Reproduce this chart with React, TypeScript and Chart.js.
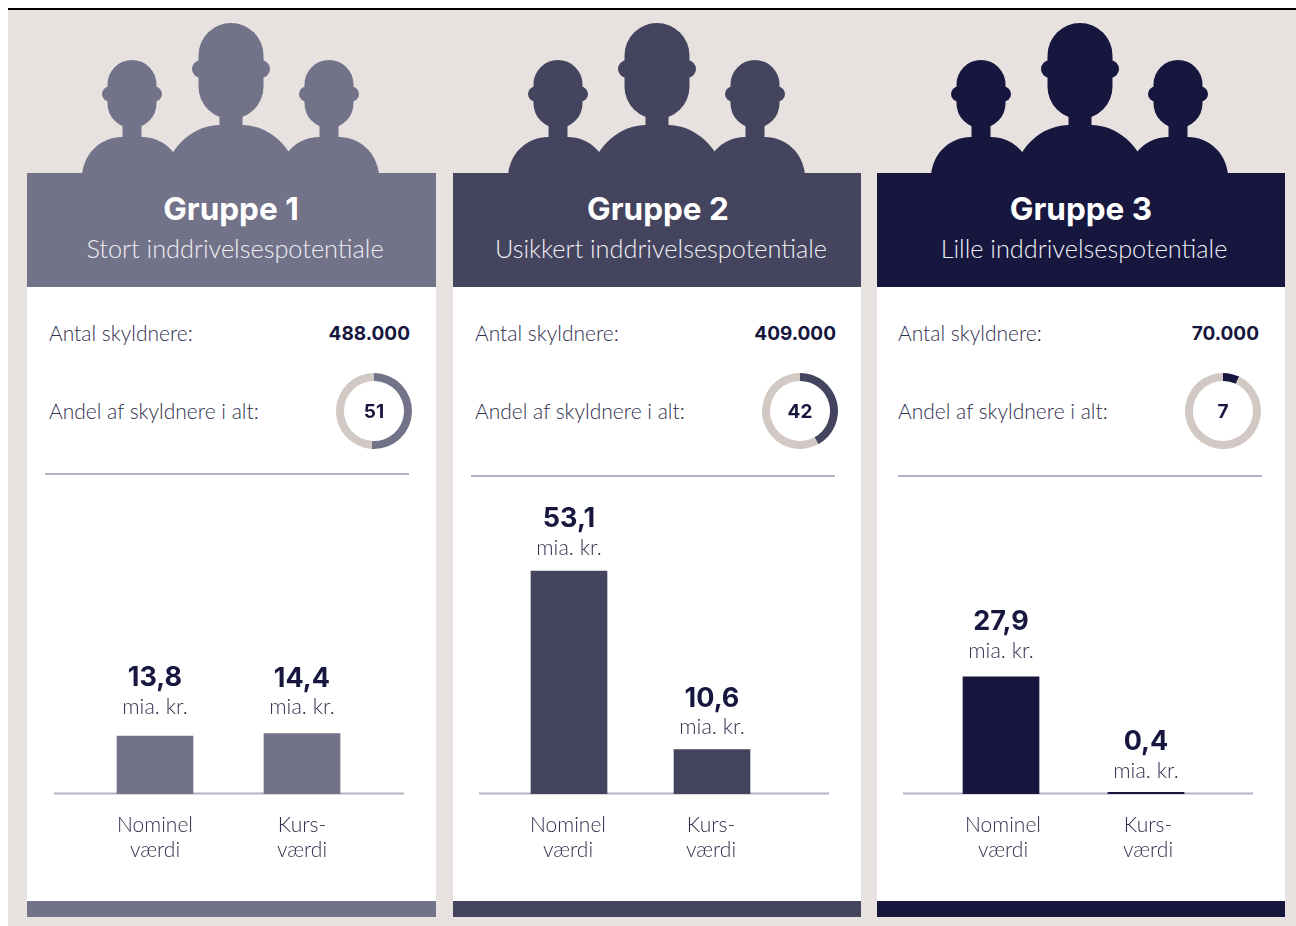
import React, { useEffect, useRef } from "react";
import { Chart, registerables } from "chart.js";

Chart.register(...registerables);

const groupTitles = ["Gruppe 1", "Gruppe 2", "Gruppe 3"];
const groupSubtitles = ["Stort inddrivelsespotentiale", "Usikkert inddrivelsespotentiale", "Lille inddrivelsespotentiale"];
const debtorCounts = ["488.000", "409.000", "70.000"];
const debtorShares = [51, 42, 7];
const barCategories = [["Nominel", "værdi"], ["Kurs-", "værdi"]];
const nominalValues = [13.8, 53.1, 27.9];
const marketValues = [14.4, 10.6, 0.4];
const unitLabel = "mia. kr.";
const countLabel = "Antal skyldnere:";
const shareLabel = "Andel af skyldnere i alt:";

const groupColors = ["#727289", "#44445f", "#16163f"];
const ringBase = "#d2c8c4";
const ink = "#16163f";
const softInk = "#30304f";
const rule = "#b2b2c4";
const LIGHT = "Lato, sans-serif";
const BOLD = "Inter, sans-serif";

const layouts = [
  { left: 27, width: 409, cx: 231, titleX: 231, subX: 235, textL: 49, textR: 410, ringX: 374, ruleL: 45, ruleY: 473, baseL: 54, baseR: 404, c1: 155, c2: 302, lifts: [58, 55], tickShift: 0 },
  { left: 453, width: 408, cx: 656.5, titleX: 658, subX: 661, textL: 475, textR: 836, ringX: 800, ruleL: 471, ruleY: 475, baseL: 479, baseR: 829, c1: 569, c2: 712, lifts: [52, 51], tickShift: -1 },
  { left: 877, width: 408, cx: 1079.5, titleX: 1081, subX: 1084, textL: 898, textR: 1259, ringX: 1223, ruleL: 898, ruleY: 475, baseL: 903, baseR: 1253, c1: 1001, c2: 1146, lifts: [55, 50], tickShift: 2 },
];

function Silhouette({ cx, color }: { cx: number; color: string }) {
  const side = (dx: number) => (
    <g transform={`translate(${dx} 0)`}>
      <rect x={-24.5} y={60} width={49} height={68} rx={24.5} />
      <circle cx={-22.5} cy={94} r={7.5} />
      <circle cx={22.5} cy={94} r={7.5} />
      <rect x={-9.5} y={120} width={19} height={20} />
      <path d="M-50,175 C-48,152 -30,137 -10,137 L10,137 C30,137 48,152 50,175 Z" />
    </g>
  );
  return (
    <svg style={{ position: "absolute", left: cx - 170, top: 0 }} width={340} height={180} viewBox={`${-170} 0 340 180`} fill={color}>
      {side(-99)}
      {side(98)}
      <rect x={-32.5} y={23} width={65} height={96} rx={32.5} />
      <circle cx={-30} cy={69} r={9} />
      <circle cx={30} cy={69} r={9} />
      <rect x={-11.5} y={105} width={23} height={24} />
      <path d="M-66,175 C-62,145 -36,125 -11,125 L11,125 C36,125 62,145 66,175 Z" />
    </svg>
  );
}

function Ring({ value, color, x }: { value: number; color: string; x: number }) {
  const ref = useRef<HTMLCanvasElement>(null);
  useEffect(() => {
    const chart = new Chart(ref.current!, {
      type: "doughnut",
      data: { datasets: [{ data: [value, 100 - value], backgroundColor: [color, ringBase], borderWidth: 0 }] },
      options: {
        animation: false,
        responsive: false,
        cutout: "79%",
        plugins: { legend: { display: false }, tooltip: { enabled: false } },
      },
    });
    return () => chart.destroy();
  }, [value, color]);
  return <canvas ref={ref} width={76} height={76} style={{ position: "absolute", left: x - 38, top: 373, width: 76, height: 76 }} />;
}

function Bars({ index }: { index: number }) {
  const ref = useRef<HTMLCanvasElement>(null);
  const L = layouts[index];
  const canvasLeft = L.left;
  const canvasTop = 480;
  const canvasW = 408;
  const canvasH = 400;
  useEffect(() => {
    const spacing = L.c2 - L.c1;
    const padLeft = L.c1 - spacing / 2 - canvasLeft;
    const padRight = canvasW - (L.c2 + spacing / 2 - canvasLeft);
    const baseAndLabels = {
      id: "baseAndLabels",
      beforeDatasetsDraw(chart: any) {
        const y = chart.scales.y.getPixelForValue(0);
        const c = chart.ctx;
        c.save();
        c.strokeStyle = rule;
        c.lineWidth = 2;
        c.beginPath();
        c.moveTo(L.baseL - canvasLeft, y - 0.5);
        c.lineTo(L.baseR - canvasLeft, y - 0.5);
        c.stroke();
        c.restore();
      },
      afterDatasetsDraw(chart: any) {
        const c = chart.ctx;
        const ds = chart.data.datasets[0].data as number[];
        chart.getDatasetMeta(0).data.forEach((el: any, i: number) => {
          const lift = L.lifts[i];
          c.save();
          c.textAlign = "center";
          c.textBaseline = "middle";
          c.fillStyle = ink;
          c.font = `700 27px ${BOLD}`;
          c.fillText(ds[i].toLocaleString("da-DK"), el.x, el.y - lift);
          c.fillStyle = softInk;
          c.font = `300 21.5px ${LIGHT}`;
          c.fillText(unitLabel, el.x, el.y - lift + 29);
          c.restore();
        });
      },
    };
    const chart = new Chart(ref.current!, {
      type: "bar",
      data: {
        labels: barCategories,
        datasets: [{
          data: [nominalValues[index], marketValues[index]],
          backgroundColor: groupColors[index],
          barThickness: 76,
          borderWidth: 0,
        }],
      },
      options: {
        animation: false,
        responsive: false,
        layout: { padding: { left: padLeft, right: padRight, top: 20, bottom: 0 } },
        scales: {
          x: {
            grid: { display: false },
            border: { display: false },
            afterFit(scale: any) { scale.height = 86; },
            ticks: {
              color: softInk,
              font: { family: LIGHT, size: 21, weight: 300, lineHeight: 1.17 },
              padding: 11,
              labelOffset: L.tickShift,
              maxRotation: 0,
              autoSkip: false,
            },
          },
          y: { display: false, min: 0, max: 70 },
        },
        plugins: { legend: { display: false }, tooltip: { enabled: false } },
      },
      plugins: [baseAndLabels],
    });
    return () => chart.destroy();
  }, [index]);
  return <canvas ref={ref} width={canvasW} height={canvasH} style={{ position: "absolute", left: canvasLeft, top: canvasTop, width: canvasW, height: canvasH }} />;
}

const abs = (o: React.CSSProperties): React.CSSProperties => ({ position: "absolute", ...o });

function centered(x: number, y: number, font: string, color: string): React.CSSProperties {
  return abs({ left: x - 250, width: 500, top: y - 25, height: 50, font, color, textAlign: "center", whiteSpace: "nowrap" });
}

export default function App() {
  useEffect(() => {
    document.body.style.margin = "0";
    document.body.style.background = "#fff";
  }, []);
  return (
    <div style={abs({ left: 0, top: 0, width: 1296, height: 926, overflow: "hidden", background: "#fff" })}>
      <div style={abs({ left: 8, top: 8, width: 1288, height: 2, background: "#000" })} />
      <div style={abs({ left: 8, top: 10, width: 1288, height: 916, background: "#e7e2df" })} />
      {layouts.map((L, i) => (
        <React.Fragment key={i}>
          <Silhouette cx={L.cx} color={groupColors[i]} />
          <div style={abs({ left: L.left, top: 173, width: L.width, height: 114, background: groupColors[i] })} />
          <div style={abs({ left: L.left, top: 287, width: L.width, height: 615, background: "#fff" })} />
          <div style={abs({ left: L.left, top: 901, width: L.width, height: 16, background: groupColors[i] })} />
          <div style={centered(L.titleX, 209, `700 31.5px/50px ${BOLD}`, "#fff")}>{groupTitles[i]}</div>
          <div style={centered(L.subX, 248, `300 25.3px/50px ${LIGHT}`, "#f1f0f3")}>{groupSubtitles[i]}</div>
          <div style={abs({ left: L.textL, top: 318, color: softInk, font: `300 21px/30px ${LIGHT}`, whiteSpace: "nowrap" })}>{countLabel}</div>
          <div style={abs({ left: L.textR - 150, width: 150, top: 319, textAlign: "right", color: ink, font: `700 19px/30px ${BOLD}` })}>{debtorCounts[i]}</div>
          <div style={abs({ left: L.textL, top: 396, color: softInk, font: `300 21px/30px ${LIGHT}`, whiteSpace: "nowrap" })}>{shareLabel}</div>
          <Ring value={debtorShares[i]} color={groupColors[i]} x={L.ringX} />
          <div style={centered(L.ringX, 412, `700 19px/50px ${BOLD}`, ink)}>{debtorShares[i]}</div>
          <div style={abs({ left: L.ruleL, top: L.ruleY, width: 364, height: 2, background: rule })} />
          <Bars index={i} />
        </React.Fragment>
      ))}
    </div>
  );
}
